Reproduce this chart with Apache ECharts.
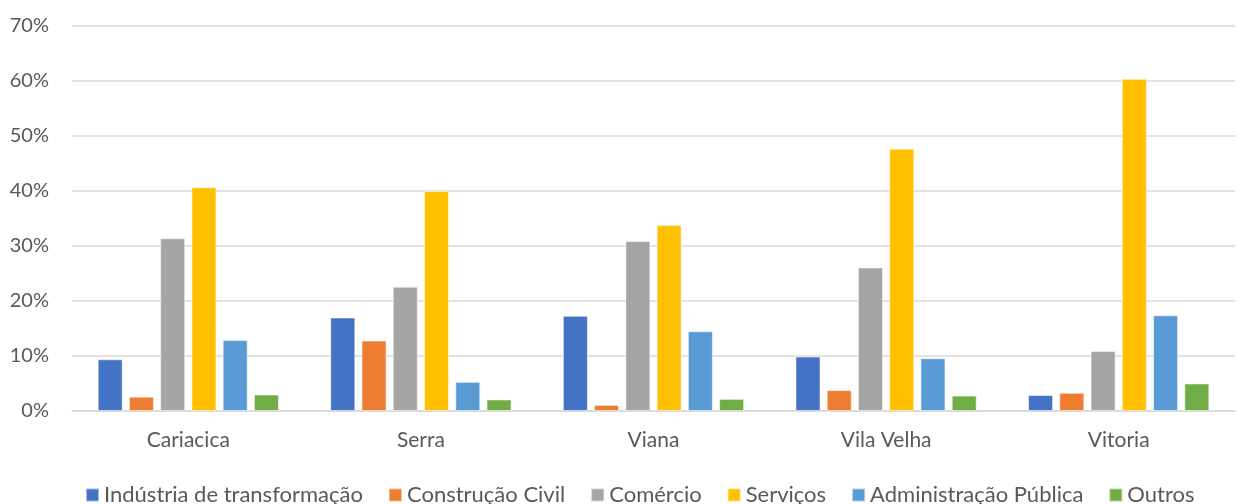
<!DOCTYPE html>
<html>
<head>
<meta charset="utf-8">
<script src="https://cdn.jsdelivr.net/npm/echarts@6/dist/echarts.min.js"></script>
<style>
html,body{margin:0;padding:0;background:#fff;}
#chart{width:1237px;height:504px;}
</style>
</head>
<body>
<div id="chart"></div>
<script>
const categories = ['Cariacica', 'Serra', 'Viana', 'Vila Velha', 'Vitoria'];
const seriesNames = ['Indústria de transformação', 'Construção Civil', 'Comércio', 'Serviços', 'Administração Pública', 'Outros'];
const industria = [9.4, 17.0, 17.3, 9.9, 2.9];
const construcao = [2.6, 12.8, 1.1, 3.8, 3.3];
const comercio = [31.4, 22.6, 30.9, 26.1, 10.9];
const servicos = [40.7, 40.0, 33.8, 47.7, 60.4];
const administracao = [12.9, 5.3, 14.5, 9.6, 17.4];
const outros = [3.0, 2.1, 2.2, 2.8, 5.0];
const colors = ['#4472C4', '#ED7D31', '#A5A5A5', '#FFC000', '#5B9BD5', '#70AD47'];

const allData = [industria, construcao, comercio, servicos, administracao, outros];
const FONT = 'Lato';

const chart = echarts.init(document.getElementById('chart'), null, {renderer: 'canvas'});
chart.setOption({
  animation: false,
  color: colors,
  textStyle: {fontFamily: FONT},
  grid: {left: 72, right: 2, top: 26, bottom: 93, containLabel: false},
  legend: {
    data: seriesNames,
    left: 80,
    top: 479,
    itemWidth: 13,
    itemHeight: 13,
    itemGap: 25,
    icon: 'rect',
    textStyle: {fontFamily: FONT, fontSize: 22, color: '#595959'}
  },
  xAxis: {
    type: 'category',
    data: categories,
    axisTick: {show: false},
    axisLine: {show: true, lineStyle: {color: '#D9D9D9', width: 1.5}},
    axisLabel: {fontFamily: FONT, fontSize: 21, color: '#595959', margin: 19}
  },
  yAxis: {
    type: 'value',
    min: 0,
    max: 70,
    interval: 10,
    axisLine: {show: false},
    axisTick: {show: false},
    splitLine: {lineStyle: {color: '#D9D9D9', width: 1.5}},
    axisLabel: {fontFamily: FONT, fontSize: 20, color: '#595959', margin: 23, formatter: v => v + '%'}
  },
  series: seriesNames.map((name, i) => ({
    name: name,
    type: 'bar',
    data: allData[i],
    barWidth: 25,
    barGap: '25%',
    itemStyle: {color: colors[i], borderColor: 'rgba(255,255,255,0.5)', borderWidth: 1}
  }))
});
</script>
</body>
</html>
